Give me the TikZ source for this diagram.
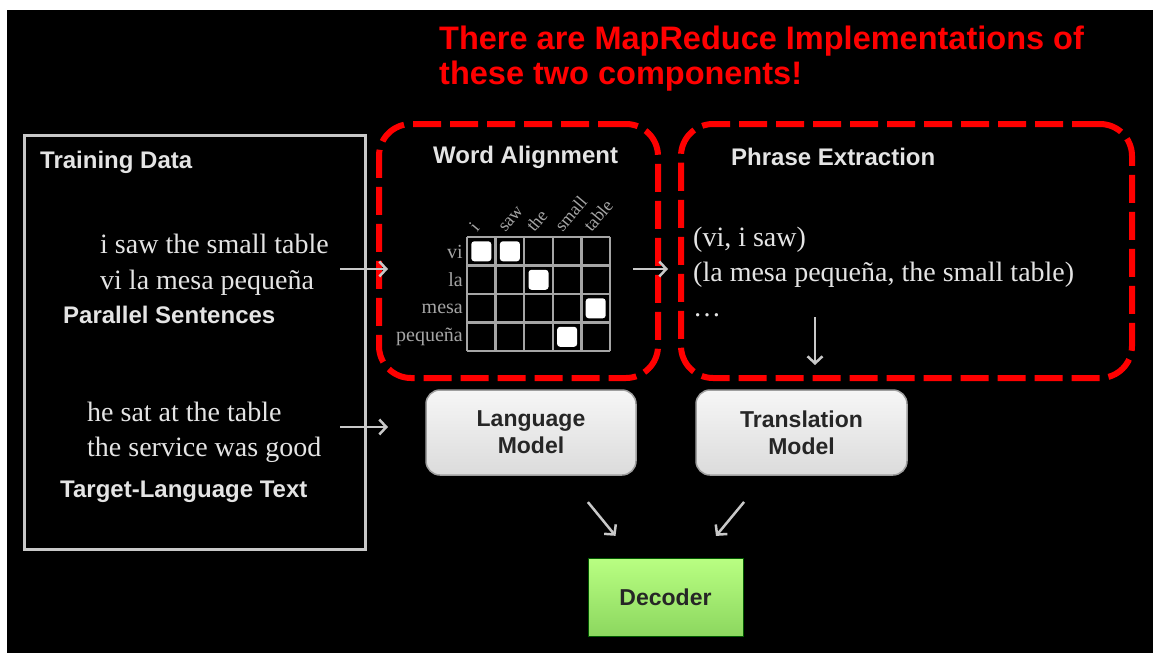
\documentclass[tikz,border=0pt]{standalone}
\usepackage{fontspec}
\setmainfont{Liberation Sans}
\newfontfamily\sentfont{Liberation Serif}
\usepackage{tikz}
\usetikzlibrary{arrows.meta}
\usepackage{xcolor}

\definecolor{txtgray}{RGB}{228,228,228}
\definecolor{linegray}{RGB}{200,200,200}
\definecolor{lblgray}{RGB}{165,165,165}
\definecolor{dashred}{RGB}{255,0,0}

\tikzset{
  lbl/.style={text=txtgray, font=\bfseries\fontsize{24}{28}\selectfont, inner sep=0pt, anchor=west},
  sent/.style={text=txtgray, font=\sentfont\fontsize{28}{36}\selectfont, inner sep=0pt, anchor=west, align=left},
  cell/.style={text=lblgray, font=\sentfont\fontsize{20}{22}\selectfont, inner sep=0pt},
  redbox/.style={draw=dashred, line width=6pt, dash pattern=on 28pt off 9pt, rounded corners=32pt},
  modelbox/.style={draw=gray!75, line width=1.5pt, rounded corners=14pt, top color=white!93!gray,
    bottom color=white!72!gray, minimum height=85pt, align=center, text=black!85,
    font=\bfseries\fontsize{23}{27}\selectfont},
  wharrow/.style={-{Straight Barb[length=7pt,width=15pt]}, draw=linegray, line width=2.5pt}
}

\begin{document}
\begin{tikzpicture}[x=1pt,y=-1pt]
  \useasboundingbox (0,0) rectangle (1153,653);
  \fill[white] (0,0) rectangle (1153,653);
  \fill[black] (7,10) rectangle (1153,653);

  % title
  \node[anchor=west, align=left, inner sep=0pt, text=dashred,
        font=\bfseries\fontsize{32.5}{35}\selectfont] (title) at (439,59)
        {There are MapReduce Implementations of\\these two components!};

  % training data
  \node[draw=linegray, line width=3pt, minimum width=341pt, minimum height=414pt] (train) at (194.5,342) {};
  \node[lbl] (trainlbl) at (40,162) {Training Data};
  \node[sent] (par) at (100,265) {i saw the small table\\vi la mesa pequeña};
  \node[lbl] (parlbl) at (63,315) {Parallel Sentences};
  \node[sent, font=\sentfont\fontsize{28}{35}\selectfont] (tgt) at (87,432) {he sat at the table\\the service was good};
  \node[lbl] (tgtlbl) at (60,492) {Target-Language Text};

  % the two components
  \node[redbox, minimum width=279pt, minimum height=254pt] (wa) at (518.5,251) {};
  \node[redbox, minimum width=451pt, minimum height=254pt] (pe) at (906.5,251) {};
  \node[lbl] (walbl) at (433,157) {Word Alignment};
  \node[lbl] (pelbl) at (731,157) {Phrase Extraction};

  % alignment grid
  \foreach \i in {0,...,5}
    \draw[lblgray, line width=2.5pt] (467+\i*28.6,237) -- (467+\i*28.6,351);
  \foreach \j in {0,...,4}
    \draw[lblgray, line width=2.5pt] (467,237+\j*28.5) -- (610,237+\j*28.5);
  \foreach \c/\r in {0/0,1/0,2/1,4/2,3/3}
    \fill[white, rounded corners=3pt] (471.3+\c*28.6,241.3+\r*28.5) rectangle ++(20,20);
  \foreach \w [count=\r from 0] in {vi,la,mesa,pequeña}
    \node[cell, anchor=east] (row\r) at (463,251.5+\r*28.5) {\w};
  \foreach \w [count=\c from 0] in {i,saw,the,small,table}
    \node[cell, font=\sentfont\fontsize{18}{20}\selectfont, anchor=base west, rotate=50] (col\c) at (477+\c*28.6,233) {\w};

  % phrases
  \node[sent, font=\sentfont\fontsize{28}{35}\selectfont] (phr) at (693,272)
        {(vi, i saw)\\(la mesa pequeña, the small table)\\\ldots};

  % models
  \node[modelbox, minimum width=210pt] (lm) at (531,432.5) {Language\\Model};
  \node[modelbox, minimum width=211pt] (tm) at (801.5,432.5) {Translation\\Model};
  \node[draw=green!35!black, line width=1pt, top color={rgb,255:red,185;green,255;blue,130},
        bottom color={rgb,255:red,140;green,215;blue,95}, minimum width=155pt, minimum height=78pt,
        text=black!85, font=\bfseries\fontsize{23}{27}\selectfont] (dec) at (665.5,597) {Decoder};

  % arrows
  \coordinate (parout) at (340,269);
  \coordinate (wain) at (388,269);
  \coordinate (tgtout) at (340,427);
  \coordinate (lmin) at (388,427);
  \coordinate (waout) at (633,269);
  \coordinate (pein) at (668,269);
  \coordinate (peout) at (815,317);
  \coordinate (tmin) at (815,365);
  \draw[wharrow] (parout) -- (wain);
  \draw[wharrow] (tgtout) -- (lmin);
  \draw[wharrow] (waout) -- (pein);
  \draw[wharrow] (peout) -- (tmin);
  \draw[wharrow, shorten <=34pt, shorten >=28pt] (lm) -- (dec);
  \draw[wharrow, shorten <=34pt, shorten >=28pt] (tm) -- (dec);
\end{tikzpicture}
\end{document}
